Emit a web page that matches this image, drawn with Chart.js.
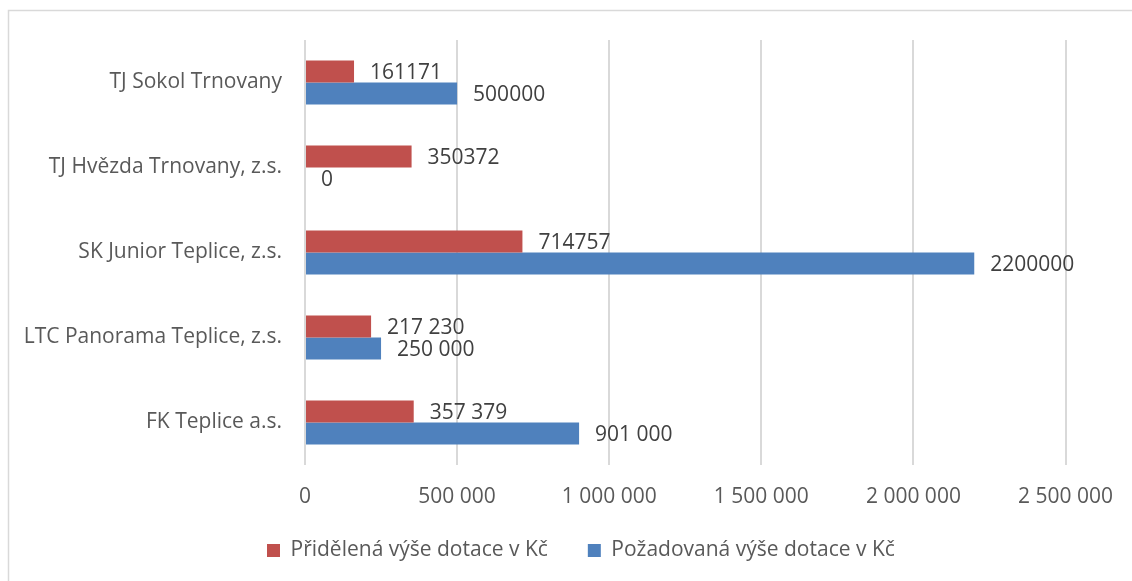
<!DOCTYPE html>
<html>
<head>
<meta charset="utf-8">
<script src="https://cdn.jsdelivr.net/npm/chart.js@4/dist/chart.umd.min.js"></script>
<style>
  html, body { margin: 0; padding: 0; background: #fff; }
  #wrap { width: 1132px; height: 581px; position: relative; }
</style>
</head>
<body>
<div id="wrap"><canvas id="dotaceChart"></canvas></div>
<script>
const categories = ['TJ Sokol Trnovany', 'TJ Hvězda Trnovany, z.s.', 'SK Junior Teplice, z.s.', 'LTC Panorama Teplice, z.s.', 'FK Teplice a.s.'];
const pridelena = [161171, 350372, 714757, 217230, 357379];
const pozadovana = [500000, 0, 2200000, 250000, 901000];
const pridelenaLabels = ['161171', '350372', '714757', '217 230', '357 379'];
const pozadovanaLabels = ['500000', '0', '2200000', '250 000', '901 000'];
const axisTicks = [0, 500000, 1000000, 1500000, 2000000, 2500000];

const textFont = "'Open Sans', sans-serif";

// ramecek nahore a vlevo
const framePlugin = {
    id: 'frame',
    beforeDraw(chart) {
        const ctx = chart.ctx;
        ctx.save();
        ctx.fillStyle = '#fff';
        ctx.fillRect(0, 0, chart.width, chart.height);
        ctx.strokeStyle = '#D9D9D9';
        ctx.lineWidth = 1.5;
        ctx.beginPath();
        ctx.moveTo(8.5, chart.height);
        ctx.lineTo(8.5, 10.5);
        ctx.lineTo(chart.width, 10.5);
        ctx.stroke();
        ctx.restore();
    }
};

// legenda: posun doprava a nahoru jako v Excelu
const legendShift = {
    id: 'legendShift',
    afterLayout(chart) {
        if (chart.legend) {
            chart.legend.left = 227;
            chart.legend.top = 500;
        }
    }
};

// popisky hodnot za koncem sloupcu
const valueLabels = {
    id: 'valueLabels',
    afterDatasetsDraw(chart) {
        const ctx = chart.ctx;
        const texts = [pridelenaLabels, pozadovanaLabels];
        ctx.save();
        ctx.font = "21px 'Open Sans'";
        ctx.fillStyle = '#404040';
        ctx.textAlign = 'left';
        ctx.textBaseline = 'middle';
        chart.data.datasets.forEach((ds, di) => {
            const meta = chart.getDatasetMeta(di);
            meta.data.forEach((bar, i) => {
                ctx.fillText(texts[di][i], bar.x + 16, bar.y + 1.5);
            });
        });
        ctx.restore();
    }
};

const config = {
    type: 'bar',
    data: {
        labels: categories,
        datasets: [{
            label: 'Přidělená výše dotace v Kč',
            data: pridelena,
            backgroundColor: '#C0504D',
            borderWidth: 0
        }, {
            label: 'Požadovaná výše dotace v Kč',
            data: pozadovana,
            backgroundColor: '#4F81BD',
            borderWidth: 0
        }]
    },
    options: {
        indexAxis: 'y',
        responsive: true,
        maintainAspectRatio: false,
        animation: false,
        barPercentage: 1,
        categoryPercentage: 0.52,
        layout: {
            padding: { top: 40, right: 66, bottom: 0, left: 0 }
        },
        scales: {
            x: {
                min: 0,
                max: 2500000,
                afterBuildTicks(scale) {
                    scale.ticks = axisTicks.map(v => ({ value: v }));
                },
                afterFit(scale) {
                    scale.height = 45;
                },
                grid: {
                    color: '#D9D9D9',
                    lineWidth: 2,
                    drawTicks: false
                },
                border: { display: false },
                ticks: {
                    padding: 19,
                    color: '#595959',
                    font: { family: textFont, size: 21 },
                    maxRotation: 0,
                    callback: v => v.toLocaleString('cs-CZ').replace(/\s/g, ' ')
                }
            },
            y: {
                afterFit(scale) {
                    scale.width = 305;
                },
                grid: { display: false, drawTicks: false },
                border: { display: false },
                ticks: {
                    padding: 23,
                    color: '#595959',
                    font: { family: textFont, size: 21 }
                }
            }
        },
        plugins: {
            legend: {
                position: 'bottom',
                align: 'start',
                labels: {
                    boxWidth: 13,
                    boxHeight: 13,
                    padding: 40,
                    color: '#595959',
                    font: { family: textFont, size: 21 }
                }
            },
            tooltip: { enabled: false }
        }
    },
    plugins: [framePlugin, legendShift, valueLabels]
};

window.onload = function() {
    const ctx = document.getElementById('dotaceChart').getContext('2d');
    new Chart(ctx, config);
};
</script>
</body>
</html>
